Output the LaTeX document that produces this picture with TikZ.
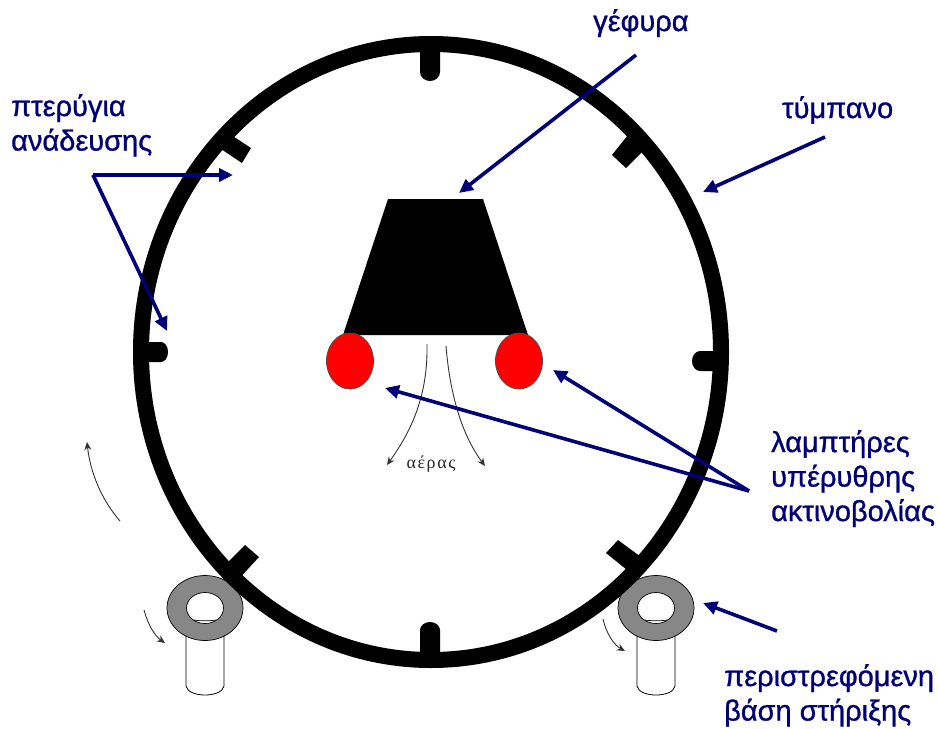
\documentclass[tikz,border=0pt]{standalone}
\usepackage{fontspec}
\setmainfont{Liberation Sans}
\newfontfamily\lblfont[FakeBold=1]{Liberation Sans}
\newfontfamily\airfont[LetterSpace=9]{Liberation Serif}
\usetikzlibrary{arrows.meta,shapes.geometric}
\definecolor{navy}{RGB}{0,0,120}
\tikzset{
  x=1pt,y=-1pt,
  lbl/.style={text=navy,font=\lblfont\fontsize{29}{34.5}\selectfont,align=left,inner sep=0pt,anchor=north west},
  navyarrow/.style={draw=navy,line width=3.6pt,-{Triangle[length=14pt,width=13pt]}},
  thinarrow/.style={draw=black!80,line width=0.9pt,-{Stealth[length=8pt,width=7pt]}},
  fin/.style={fill=black,draw=none},
  lamp/.style={ellipse,draw=black!70,fill=red,line width=0.8pt,minimum width=47pt,minimum height=56pt,inner sep=0pt},
  ringbase/.style={ellipse,draw=black,fill=black!47,line width=0.7pt,minimum width=76pt,minimum height=65pt,inner sep=0pt},
  ringhole/.style={ellipse,draw=black,fill=white,line width=0.7pt,minimum width=37pt,minimum height=31pt,inner sep=0pt},
  post/.style={draw=black,fill=white,line width=0.8pt}
}
\begin{document}
\begin{tikzpicture}
\useasboundingbox (0,0) rectangle (939,728);
\fill[white] (0,0) rectangle (939,728);
% supports (posts behind rings)
\draw[post] (186,630) -- (186,686) .. controls (188,698) and (222,698) .. (224,686) -- (224,630);
\draw[post] (637,630) -- (637,686) .. controls (639,698) and (673,698) .. (675,686) -- (675,630);
\node[ringbase] (ringL) at (205,608) {};
\node[ringbase] (ringR) at (656,608) {};
\node[ringhole] (holeL) at (205,608) {};
\node[ringhole] (holeR) at (656,608) {};
\draw[black,line width=0.7pt] (194,620) .. controls (199,621) and (211,621) .. (216,620);
\draw[black,line width=0.7pt] (645,620) .. controls (650,621) and (662,621) .. (667,620);
% drum
\draw[black,line width=16pt] (431,352) ellipse [x radius=290,y radius=308];
% fins
\fill[fin] (420,45) -- (420,72) arc[start angle=180,end angle=0,x radius=10,y radius=9] -- (440,45) -- cycle;
\fill[fin] (420,655) -- (420,630) arc[start angle=180,end angle=360,x radius=10,y radius=8] -- (440,655) -- cycle;
\fill[fin] (142,342) -- (161,342) arc[start angle=-90,end angle=90,x radius=7,y radius=10] -- (142,362) -- cycle;
\fill[fin] (718,351) -- (700,351) arc[start angle=270,end angle=90,x radius=8,y radius=10] -- (718,371) -- cycle;
\fill[fin] (228,133) -- (251,148) -- (242,163) -- (218,147) -- cycle;
\fill[fin] (612,155) -- (628,135) -- (642,152) -- (626,168) -- cycle;
\fill[fin] (222,568) -- (245,545) -- (259,557) -- (236,582) -- cycle;
\fill[fin] (606,553) -- (618,540) -- (645,560) -- (632,574) -- cycle;
% bridge
\fill[black] (388,199) -- (483,199) -- (528,335) -- (343,335) -- cycle;
\node[lamp] (lampL) at (350,361) {};
\node[lamp] (lampR) at (519,361) {};
% air arrows
\coordinate (airA) at (427,344);
\coordinate (airB) at (446,346);
\coordinate (airAe) at (387,465);
\coordinate (airBe) at (485,466);
\draw[thinarrow] (airA) .. controls (428,395) and (412,430) .. (airAe);
\draw[thinarrow] (airB) .. controls (450,395) and (462,435) .. (airBe);
\node[inner sep=0pt,text=black!85,font=\airfont\fontsize{18}{20}\selectfont] (air) at (431,464) {αέρας};
% rotation arrows
\coordinate (rotA) at (120,521);
\coordinate (rotAe) at (87,442);
\draw[thinarrow] (rotA) .. controls (100,498) and (90,470) .. (rotAe);
\coordinate (rotB) at (144,610);
\coordinate (rotBe) at (165,643);
\draw[thinarrow] (rotB) .. controls (148,625) and (155,636) .. (rotBe);
\coordinate (rotC) at (603,619);
\coordinate (rotCe) at (625,651);
\draw[thinarrow] (rotC) .. controls (606,633) and (614,645) .. (rotCe);
% labels
\node[lbl] (lgef) at (593,9) {γέφυρα};
\node[lbl] (ltym) at (782,96) {τύμπανο};
\node[lbl] (lpte) at (11,94) {πτερύγια\\ανάδευσης};
\node[lbl] (llam) at (771,430) {λαμπτήρες\\υπέρυθρης\\ακτινοβολίας};
\node[lbl] (lper) at (724,664) {περιστρεφόμενη\\βάση στήριξης};
% navy arrows
\coordinate (gefS) at (636,55);
\coordinate (gefE) at (459,193);
\draw[navyarrow] (gefS) -- (gefE);
\coordinate (tymS) at (825,137);
\coordinate (tymE) at (703,192);
\draw[navyarrow] (tymS) -- (tymE);
\coordinate (fork) at (93,175);
\coordinate (finA) at (233,175);
\coordinate (finB) at (167,331);
\draw[navyarrow] (fork) -- (finA);
\draw[navyarrow] (fork) -- (finB);
\coordinate (lamS) at (749,491);
\coordinate (lamA) at (553,370);
\coordinate (lamB) at (385,388);
\draw[navyarrow] (lamS) -- (lamA);
\draw[navyarrow] (lamS) -- (lamB);
\coordinate (basS) at (777,631);
\coordinate (basE) at (703,603);
\draw[navyarrow] (basS) -- (basE);
\end{tikzpicture}
\end{document}
